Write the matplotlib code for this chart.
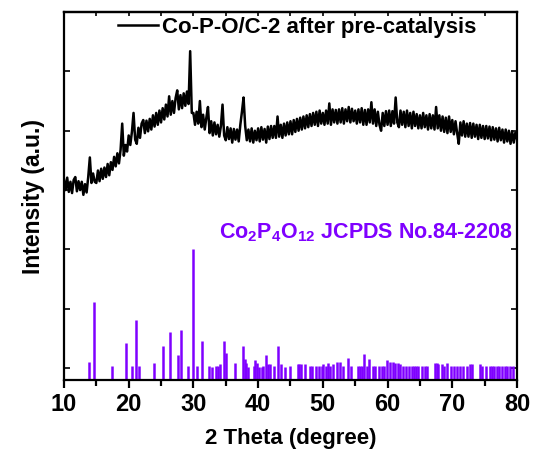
import numpy as np
import matplotlib
matplotlib.use("Agg")
import matplotlib.pyplot as plt

plt.rcParams['font.family'] = ['Liberation Sans', 'DejaVu Sans']
plt.rcParams['font.weight'] = 'bold'
plt.rcParams['mathtext.fontset'] = 'custom'
plt.rcParams['mathtext.rm'] = 'Liberation Sans:bold'
plt.rcParams['mathtext.default'] = 'rm'

# measured pattern, 10-80 deg in 0.25 deg steps
two_theta = np.arange(0, 281) * 0.25 + 10
intensity = [
    3.18, 3.00, 3.21, 2.97, 3.14, 2.95, 3.17, 3.22, 2.98, 3.15,
    3.00, 3.14, 2.92, 3.10, 2.96, 3.22, 3.55, 3.12, 3.28, 3.14,
    3.12, 3.33, 3.15, 3.36, 3.19, 3.38, 3.22, 3.44, 3.25, 3.47,
    3.34, 3.56, 3.40, 3.62, 3.45, 3.68, 4.12, 3.58, 3.76, 3.65,
    3.92, 3.76, 3.98, 4.30, 3.85, 3.78, 4.05, 3.88, 4.12, 4.18,
    3.96, 4.17, 3.99, 4.20, 4.02, 4.26, 4.07, 4.30, 4.10, 4.34,
    4.14, 4.38, 4.19, 4.44, 4.24, 4.58, 4.27, 4.50, 4.30, 4.55,
    4.68, 4.36, 4.60, 4.38, 4.63, 4.42, 4.66, 4.45, 5.34, 4.30,
    4.30, 4.10, 4.32, 4.12, 4.50, 4.06, 4.27, 4.02, 4.22, 4.40,
    3.96, 4.16, 3.92, 4.14, 3.94, 4.10, 3.90, 4.08, 4.44, 3.92,
    3.84, 4.06, 3.86, 4.04, 3.80, 4.03, 3.85, 4.02, 3.82, 4.10,
    4.32, 4.56, 4.08, 3.84, 4.02, 3.82, 4.04, 3.80, 4.00, 3.84,
    4.04, 3.82, 4.06, 3.85, 4.03, 3.80, 4.07, 3.86, 4.08, 3.88,
    4.08, 3.88, 4.24, 3.90, 4.10, 3.88, 4.12, 3.92, 4.14, 3.94,
    4.16, 3.94, 4.18, 3.98, 4.20, 4.00, 4.22, 4.02, 4.24, 4.04,
    4.26, 4.06, 4.28, 4.08, 4.30, 4.10, 4.32, 4.08, 4.34, 4.12,
    4.30, 4.10, 4.34, 4.12, 4.46, 4.10, 4.36, 4.14, 4.35, 4.12,
    4.36, 4.14, 4.38, 4.12, 4.36, 4.16, 4.40, 4.14, 4.37, 4.16,
    4.34, 4.12, 4.36, 4.14, 4.38, 4.10, 4.35, 4.10, 4.36, 4.14,
    4.48, 4.12, 4.36, 4.08, 4.32, 4.10, 4.00, 4.30, 4.08, 4.33,
    4.10, 4.34, 4.08, 4.33, 4.12, 4.56, 4.14, 4.06, 4.34, 4.10,
    4.32, 4.06, 4.34, 4.08, 4.30, 4.04, 4.32, 4.08, 4.28, 4.04,
    4.26, 4.04, 4.30, 4.06, 4.26, 4.02, 4.28, 4.04, 4.26, 4.02,
    4.40, 4.04, 4.26, 4.00, 4.24, 3.98, 4.22, 3.96, 4.24, 3.98,
    4.18, 3.94, 4.16, 3.96, 3.78, 4.14, 3.92, 4.16, 3.90, 4.12,
    3.90, 4.13, 3.88, 4.12, 3.90, 4.10, 3.86, 4.10, 3.88, 4.08,
    3.86, 4.08, 3.87, 4.07, 3.84, 4.06, 3.85, 4.04, 3.82, 4.05,
    3.84, 4.02, 3.80, 4.02, 3.82, 4.00, 3.78, 3.99, 3.80, 3.97,
    3.86,
]

# Co2P4O12 reference lines (2theta, relative intensity %)
ref_pos = [13.9, 14.63, 17.35, 19.56, 20.59, 21.1, 21.6, 23.9, 25.3, 26.45,
           27.6, 28.14, 29.1, 29.94, 30.6, 31.28, 32.36, 32.8, 33.5, 33.8,
           34.1, 34.67, 34.98, 36.4, 37.65, 37.95, 38.2, 38.5, 39.3, 39.55,
           39.8, 40.1, 40.6, 40.8, 41.14, 41.56, 41.87, 42.5, 43.04, 43.6,
           44.1, 44.93, 46.2, 46.37, 46.63, 47.25, 48.02, 48.28, 48.95, 49.46,
           49.83, 50.08, 50.49, 50.85, 51.11, 51.53, 52.15, 52.66, 53.08, 53.94,
           54.36, 55.49, 55.75, 56.01, 56.37, 56.88, 57.19, 57.71, 58.11, 58.73,
           59.15, 59.5, 59.97, 60.39, 60.8, 61.21, 61.62, 61.93, 62.45, 62.86,
           63.32, 63.74, 64.1, 64.4, 64.76, 65.29, 65.8, 66.15, 67.34, 67.6,
           67.85, 68.38, 68.73, 69.25, 69.86, 70.28, 70.69, 71.21, 71.72, 72.24,
           72.75, 73.06, 74.3, 74.65, 75.22, 75.84, 76.15, 76.46, 76.88, 77.28,
           77.7, 78.16, 78.52, 78.93, 79.35]
ref_int = [14, 60, 11, 28, 11, 46, 11, 13, 26, 37,
           19, 38, 11, 100, 11, 30, 11, 10, 11, 11,
           12, 30, 21, 13, 26, 16, 13, 10, 11, 15,
           13, 10, 10, 11, 19, 12, 12, 11, 26, 12,
           10, 11, 12, 12, 12, 12, 11, 11, 11, 11,
           11, 12, 11, 13, 11, 12, 14, 14, 11, 17,
           11, 11, 11, 11, 20, 11, 16, 11, 11, 11,
           11, 11, 15, 14, 14, 13, 13, 12, 11, 11,
           11, 11, 11, 11, 11, 11, 11, 11, 13, 13,
           12, 12, 11, 13, 11, 11, 11, 11, 11, 11,
           12, 12, 12, 11, 11, 11, 11, 11, 11, 11,
           11, 11, 11, 11, 11]

purple = '#7f00ff'
y_bottom = -0.2
stick_scale = 2.2 / 100

fig = plt.figure(figsize=(5.33, 4.53), dpi=100)
ax = fig.add_axes([0.120, 0.161, 0.850, 0.8125])

ax.plot(two_theta, intensity, color='black', lw=1.8,
        label='Co-P-O/C-2 after pre-catalysis')
ax.vlines(ref_pos, y_bottom, y_bottom + np.array(ref_int) * stick_scale,
          color=purple, lw=1.8)

ax.text(0.991, 0.386, r'Co$_2$P$_4$O$_{12}$ JCPDS No.84-2208', color=purple,
        fontsize=15.5, fontweight='bold', ha='right', va='baseline',
        transform=ax.transAxes)

ax.set_xlim(10, 80)
ax.set_ylim(y_bottom, 6)
ax.set_xticks(range(10, 81, 10))
ax.set_xticks(range(15, 80, 10), minor=True)
ax.set_yticks(range(0, 7))
ax.set_yticklabels([])

for side in ax.spines.values():
    side.set_linewidth(1.6)
ax.tick_params(axis='x', which='both', direction='out', bottom=True, top=False,
               labelsize=17, width=1.6, pad=3)
ax.tick_params(axis='x', which='major', length=6)
ax.tick_params(axis='x', which='minor', length=4)
ax.tick_params(axis='y', which='major', direction='in', left=True, right=True,
               length=4, width=1.2)

# inward ticks along the top edge
top = ax.secondary_xaxis('top')
top.set_xticks(range(10, 81, 10))
top.set_xticks(range(15, 80, 10), minor=True)
top.tick_params(which='both', direction='in', length=3, width=1.2,
                labeltop=False)
top.spines['top'].set_linewidth(1.6)

ax.set_xlabel('2 Theta (degree)', fontsize=16, fontweight='bold', labelpad=9)
ax.set_ylabel('Intensity (a.u.)', fontsize=16.5, fontweight='bold', labelpad=10)

ax.legend(loc='upper left', bbox_to_anchor=(0.119, 0.986), frameon=False,
          handlelength=1.8, handletextpad=0.2, borderaxespad=0, borderpad=0,
          prop={'size': 16, 'weight': 'bold'})

fig.savefig('out.png', dpi=100)
